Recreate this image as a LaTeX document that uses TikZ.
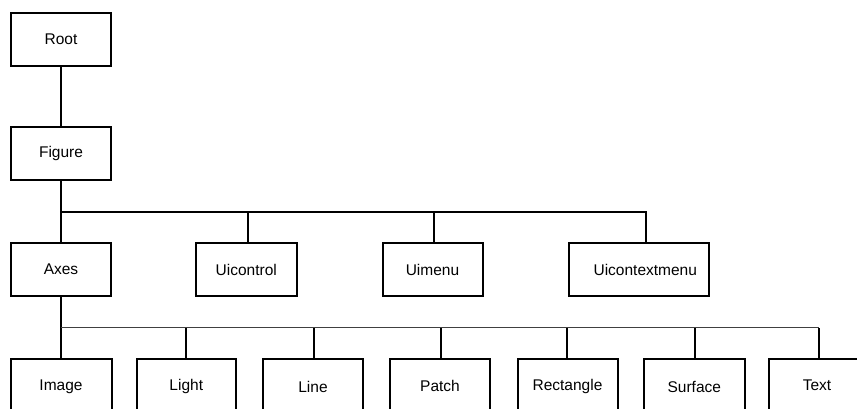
\documentclass[tikz,border=0pt]{standalone}
\usepackage{fontspec}
\setmainfont{Liberation Sans}
\begin{document}
\begin{tikzpicture}[x=1pt,y=-1pt,
  box/.style={draw=black,line width=2pt,minimum width=100pt,minimum height=53pt,inner sep=0pt,
    font=\fontsize{15.5}{18}\selectfont},
  link/.style={draw=black,line width=2pt},
  thinlink/.style={draw=black!75,line width=1.3pt}]
\useasboundingbox (0,0) rectangle (857,408);
\clip (0,0) rectangle (857,408);
% level 0-1
\node[box] (root) at (61,39.5) {Root};
\node[box] (figure) at (61,153) {Figure};
% level 2
\node[box] (axes) at (61,269.5) {Axes};
\node[box,minimum width=101pt] (uicontrol) at (246.3,269.5) {Uicontrol};
\node[box,minimum width=100pt] (uimenu) at (432.5,269.5) {Uimenu};
\node[box,minimum width=140pt] (uicm) at (639.3,269.5) {\rule{12pt}{0pt}Uicontextmenu};
% level 3
\node[box,minimum width=101pt,minimum height=56pt] (image) at (61,386.5) {Image};
\node[box,minimum width=99pt,minimum height=56pt] (light) at (186.3,386.5) {\raisebox{2pt}{Light}};
\node[box,minimum width=100pt,minimum height=56pt] (line) at (313,386.5) {Line};
\node[box,minimum width=100pt,minimum height=56pt] (patch) at (440,386.5) {\raisebox{2pt}{Patch}};
\node[box,minimum width=100pt,minimum height=56pt] (rect) at (567.5,386.5) {Rectangle};
\node[box,minimum width=101pt,minimum height=56pt] (surface) at (694.3,386.5) {Surface};
\node[box,minimum width=120pt,minimum height=56pt] (text) at (829,386.5) {\raisebox{2pt}{Text}\rule{24pt}{0pt}};
% connectors
\coordinate (bus1) at (61,212);
\coordinate (bus2) at (61,327.7);
\draw[link] (root.south) -- (figure.north);
\draw[link] (figure.south) -- (axes.north);
\draw[link] (bus1) -| ([xshift=6.4pt]uicm.north);
\draw[link] ([xshift=1.7pt]uicontrol.north) -- ([xshift=1.7pt]uicontrol.north |- bus1);
\draw[link] ([xshift=1.8pt]uimenu.north) -- ([xshift=1.8pt]uimenu.north |- bus1);
\draw[link] (axes.south) -- (image.north);
\draw[thinlink] (bus2) -- ([xshift=-10pt]text.north |- bus2);
\draw[link] (light.north) -- (light.north |- bus2);
\draw[link] ([xshift=1pt]line.north) -- ([xshift=1pt]line.north |- bus2);
\draw[link] ([xshift=1pt]patch.north) -- ([xshift=1pt]patch.north |- bus2);
\draw[link] ([xshift=-0.8pt]rect.north) -- ([xshift=-0.8pt]rect.north |- bus2);
\draw[link] ([xshift=0.7pt]surface.north) -- ([xshift=0.7pt]surface.north |- bus2);
\draw[link] ([xshift=-10pt]text.north) -- ([xshift=-10pt]text.north |- bus2);
\end{tikzpicture}
\end{document}
